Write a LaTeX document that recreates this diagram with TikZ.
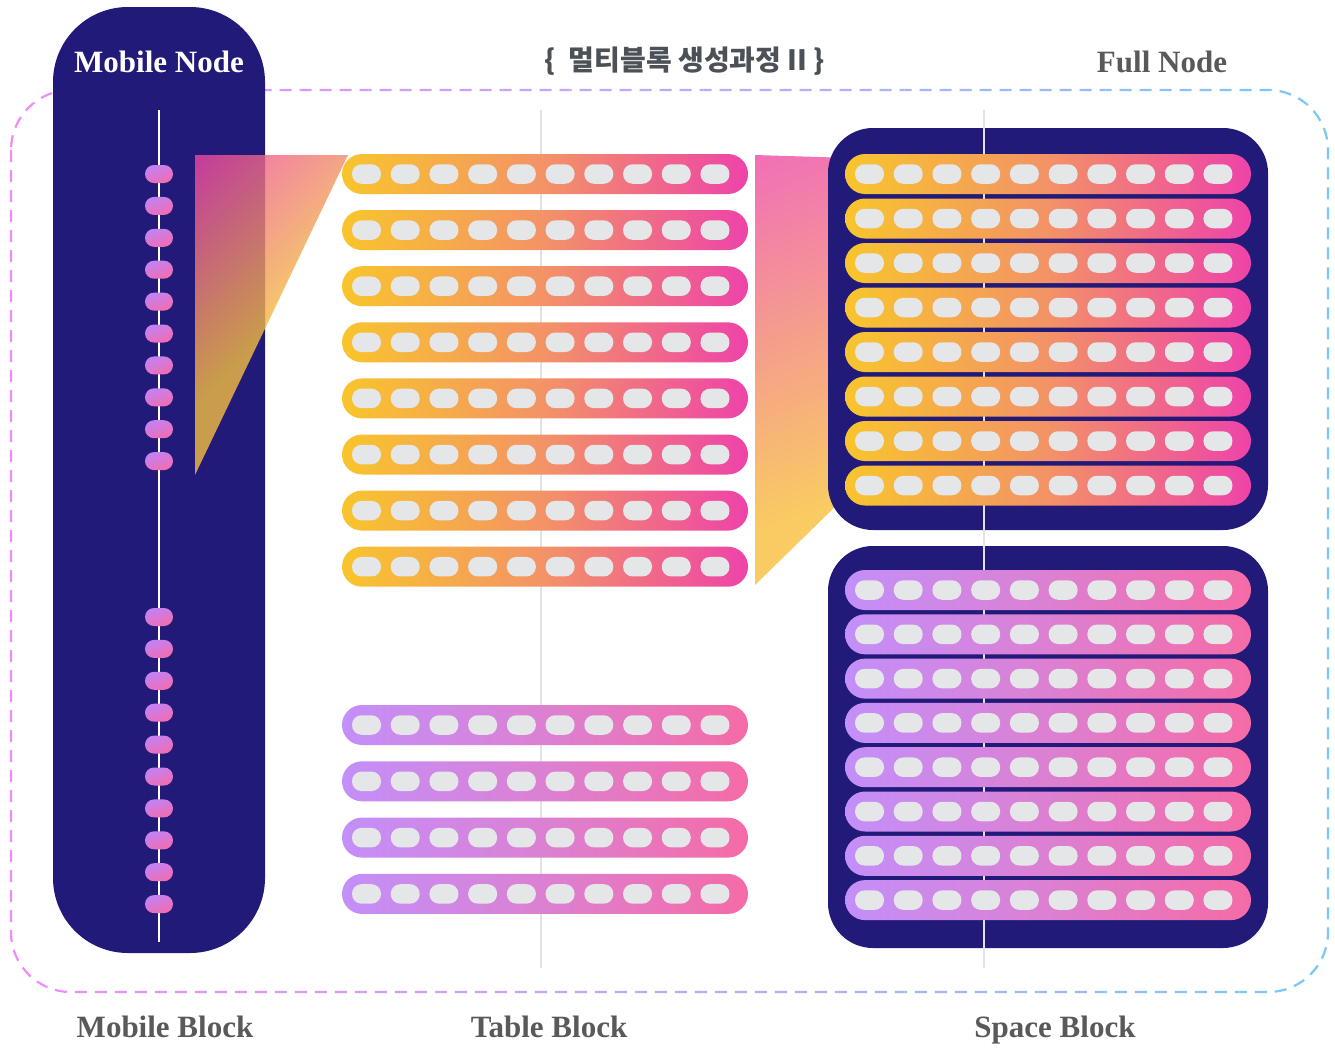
\documentclass[tikz,border=0pt]{standalone}
\usepackage{fontspec}
\setmainfont{Liberation Serif}
\newfontfamily\krfont{Noto Sans CJK KR}
\definecolor{navy}{HTML}{211A78}
\definecolor{o1}{HTML}{F8C52C}
\definecolor{o2}{HTML}{F39267}
\definecolor{o3}{HTML}{EE43A9}
\definecolor{p1}{HTML}{C38FF9}
\definecolor{p2}{HTML}{DC80D2}
\definecolor{p3}{HTML}{F56BA6}
\definecolor{pillc}{HTML}{E5E6E8}
\definecolor{mp1}{HTML}{C282F4}
\definecolor{mp2}{HTML}{F26CAE}
\definecolor{tpink}{HTML}{ED49A2}
\definecolor{tyel}{HTML}{F4BE40}
\definecolor{qpink}{HTML}{F068BE}
\definecolor{qyel}{HTML}{F9CB62}
\definecolor{bpink}{HTML}{EF8CF7}
\definecolor{blav}{HTML}{BCAAF8}
\definecolor{bblue}{HTML}{7BC8F8}
\definecolor{lblc}{HTML}{595959}
\definecolor{ttlc}{HTML}{4B5157}
\definecolor{vlc}{HTML}{E2E2E6}
\pgfdeclarehorizontalshading{trishade}{100bp}{color(0bp)=(tpink); color(16bp)=(tpink); color(52bp)=(tyel); color(100bp)=(tyel)}
\pgfdeclarehorizontalshading{quadshade}{100bp}{color(0bp)=(qpink); color(14bp)=(qpink); color(70bp)=(qyel); color(100bp)=(qyel)}
\tikzset{
  orbar/.style={left color=o1, right color=o3, middle color=o2, rounded corners=20pt},
  pubar/.style={left color=p1, right color=p3, middle color=p2, rounded corners=20pt},
  pillbox/.style={fill=pillc, rounded corners=9.5pt},
  mpill/.style={left color=mp1, right color=mp2, shading angle=20, rounded corners=9pt},
  lbl/.style={font=\bfseries\fontsize{31}{31}\selectfont, text=lblc, anchor=base, inner sep=0pt},
  bord/.style={line width=2.2pt, dash pattern=on 12pt off 8pt, rounded corners=60pt},
  navybox/.style={fill=navy},
  vline/.style={line width=2pt, draw=vlc},
}
\newcommand\mybar[3]{%
  \pgfmathsetmacro\barx{#2}%
  \pgfmathsetmacro\bary{#3}%
  \shade[#1] (\barx,\bary-20) rectangle (\barx+406,\bary+20);
  \foreach \j in {0,...,9}{
    \fill[pillbox] (\barx+10+\j*38.72,\bary-9.75) rectangle (\barx+39+\j*38.72,\bary+9.75);
  }
}
\begin{document}
\begin{tikzpicture}[x=1pt,y=-1pt]
\useasboundingbox (0,0) rectangle (1335,1050);
\fill[white] (0,0) rectangle (1335,1050);
% dashed gradient border
\foreach \i in {0,...,19}{
  \pgfmathsetmacro\xa{\i*33.5}
  \pgfmathtruncatemacro\p{100-\i*100/19}
  \begin{scope}
    \clip (\xa,-5) rectangle (\xa+33.6,1060);
    \draw[bord, draw=bpink!\p!blav] (11,90) rectangle (1328,992);
  \end{scope}
}
\foreach \i in {0,...,19}{
  \pgfmathsetmacro\xa{670+\i*33.5}
  \pgfmathtruncatemacro\p{100-\i*100/19}
  \begin{scope}
    \clip (\xa,-5) rectangle (\xa+33.6,1060);
    \draw[bord, draw=blav!\p!bblue] (11,90) rectangle (1328,992);
  \end{scope}
}
% mobile node
\fill[navybox, rounded corners=75pt] (53,7) rectangle (265,953);
% zoom wedges
\shade[shading=trishade, shading angle=-45, opacity=0.8] (195,155) -- (348,155) -- (195,475) -- cycle;
\shade[shading=quadshade, shading angle=-70] (755,155) -- (850,158) -- (850,492) -- (755,585) -- cycle;
% full node boxes
\fill[navybox, rounded corners=45pt] (828,128) rectangle (1268,530);
\fill[navybox, rounded corners=45pt] (828,546) rectangle (1268,948);
% vertical lines
\draw[vline] (541,110) -- (541,968);
\draw[vline] (984,110) -- (984,968);
\draw[white, line width=2.5pt] (159,110) -- (159,942);
% mobile pills
\foreach \k in {0,...,9}{
  \shade[mpill] (145,174+\k*31.9-9) rectangle (173,174+\k*31.9+9);
  \shade[mpill] (145,617+\k*31.9-9) rectangle (173,617+\k*31.9+9);
}
% table block bars
\foreach \k in {0,...,7}{ \mybar{orbar}{342}{174+\k*56.1} }
\foreach \k in {0,...,3}{ \mybar{pubar}{342}{725+\k*56.3} }
% full node bars
\foreach \k in {0,...,7}{ \mybar{orbar}{845}{174+\k*44.5} }
\foreach \k in {0,...,7}{ \mybar{pubar}{845}{590+\k*44.3} }
% texts
\node[lbl, text=white] (mnode) at (159,72) {Mobile Node};
\node[lbl] (fnode) at (1162,72) {Full Node};
\node[anchor=base, inner sep=0pt, text=ttlc, font=\krfont\bfseries\fontsize{28}{28}\selectfont] (title) at (685,70) {\{\ \ 멀티블록 생성과정 II \}};
\node[lbl] (mblock) at (165,1037) {Mobile Block};
\node[lbl] (tblock) at (549,1037) {Table Block};
\node[lbl] (sblock) at (1055,1037) {Space Block};
\end{tikzpicture}
\end{document}
